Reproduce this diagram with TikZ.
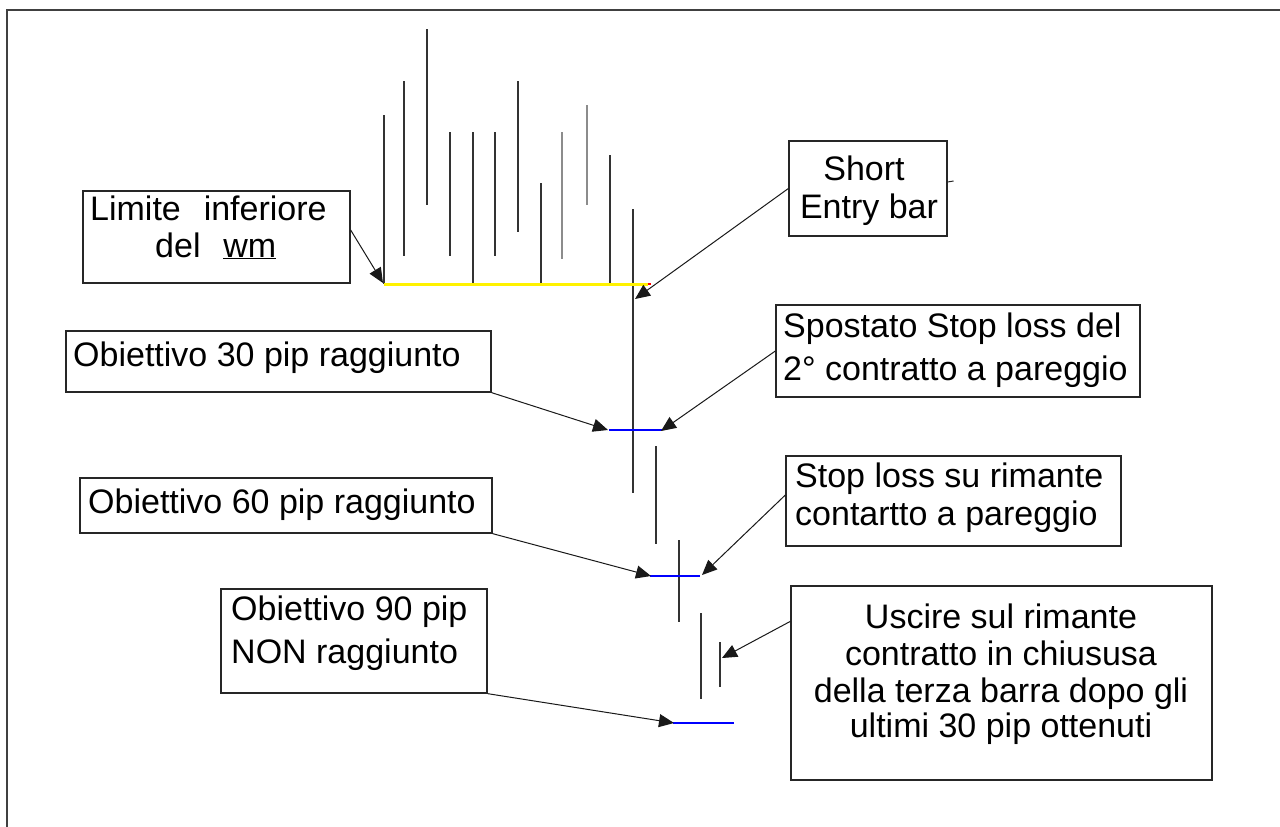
\documentclass[tikz,border=0pt]{standalone}
\usepackage{fontspec}
\setmainfont{Liberation Sans}
\usetikzlibrary{arrows.meta}
\begin{document}
\begin{tikzpicture}[x=1pt,y=-1pt,
  box/.style={draw=black!85, line width=1.3pt, rectangle, inner sep=0pt},
  lbl/.style={font=\fontsize{34}{37}\selectfont, inner sep=0pt, text=black},
  bar/.style={draw=black!80, line width=2pt},
  graybar/.style={draw=black!45, line width=2pt},
  bluel/.style={draw=blue, line width=1.8pt},
  conn/.style={draw=black!90, line width=1pt, -{Triangle[length=15pt,width=13pt]}},
  frame/.style={draw=black!75, line width=2pt}]
\useasboundingbox (0,0) rectangle (1280,827);
\fill[white] (0,0) rectangle (1280,827);
% outer frame (top and left)
\draw[frame] (7,827) -- (7,10) -- (1280,10);

% bars
\draw[bar] (384,115) -- (384,284);
\draw[bar] (404,81) -- (404,256);
\draw[bar] (427,29) -- (427,205);
\draw[bar] (450,132) -- (450,256);
\draw[bar] (473,132) -- (473,284);
\draw[bar] (495,132) -- (495,256);
\draw[bar] (518,81) -- (518,232);
\draw[bar] (541,183) -- (541,284);
\draw[graybar] (562,132) -- (562,259);
\draw[graybar] (587,105) -- (587,205);
\draw[bar] (610,155) -- (610,284);
\draw[bar] (633,209) -- (633,493);
\draw[bar] (656,446) -- (656,544);
\draw[bar] (679,540) -- (679,622);
\draw[bar] (701,613) -- (701,699);
\draw[bar] (720,642) -- (720,687);

% levels
\draw[draw=yellow, line width=3pt] (384,284) -- (648,284);
\draw[draw=red, line width=2pt] (648,284) -- (651,284);
\draw[bluel] (609,430) -- (662,430);
\draw[bluel] (650,576) -- (700,576);
\draw[bluel] (673,723) -- (734,723);

% boxes
\node[box, minimum width=267pt, minimum height=92pt] (b1) at (216.5,237) {};
\node[box, minimum width=158pt, minimum height=95pt] (b2) at (868,188.5) {};
\node[box, minimum width=425pt, minimum height=61pt] (b3) at (278.5,361.5) {};
\node[box, minimum width=364pt, minimum height=92pt] (b4) at (958,351) {};
\node[box, minimum width=412pt, minimum height=55pt] (b5) at (286,505.5) {};
\node[box, minimum width=335pt, minimum height=90pt] (b6) at (953.5,501) {};
\node[box, minimum width=266pt, minimum height=104pt] (b7) at (354,641) {};
\node[box, minimum width=421pt, minimum height=194pt] (b8) at (1001.5,683) {};

% texts
\node[lbl, anchor=base west] (t1a) at (90,220) {Limite\ \ \hspace{4pt}inferiore};
\node[lbl, anchor=base west] (t1b) at (155,257) {del\ \ \hspace{4pt}\underline{wm}};
\node[lbl, anchor=base] (t2a) at (864,180) {Short};
\node[lbl, anchor=base] (t2b) at (869,218) {Entry bar};
\node[lbl, anchor=base west] (t3) at (73,366) {Obiettivo 30 pip raggiunto};
\node[lbl, anchor=base west] (t4a) at (783,337) {Spostato Stop loss del};
\node[lbl, anchor=base west] (t4b) at (783,380) {2° contratto a pareggio};
\node[lbl, anchor=base west] (t5) at (88,513) {Obiettivo 60 pip raggiunto};
\node[lbl, anchor=base west] (t6a) at (795,487) {Stop loss su rimante};
\node[lbl, anchor=base west] (t6b) at (795,525) {contartto a pareggio};
\node[lbl, anchor=base west] (t7a) at (231,620) {Obiettivo 90 pip};
\node[lbl, anchor=base west] (t7b) at (231,663) {NON raggiunto};
\node[lbl, anchor=base] (t8a) at (1001,628) {Uscire sul rimante};
\node[lbl, anchor=base] (t8b) at (1001,665) {contratto in chiususa};
\node[lbl, anchor=base] (t8c) at (1001,702) {della terza barra dopo gli};
\node[lbl, anchor=base] (t8d) at (1001,737) {ultimi 30 pip ottenuti};

% arrow tips
\coordinate (p1) at (383,283);
\coordinate (p2) at (635,299);
\coordinate (p3) at (608,430);
\coordinate (p4) at (661,431);
\coordinate (p5) at (651,576);
\coordinate (p6) at (702,575);
\coordinate (p7) at (674,723);
\coordinate (p8) at (722,658);

% connectors
\draw[conn] ([yshift=7pt]b1.east) -- (p1);
\draw[conn] (b2.west) -- (p2);
\draw[conn] (b3.south east) -- (p3);
\draw[conn] (b4.west) -- (p4);
\draw[conn] (b5.south east) -- (p5);
\draw[conn] ([yshift=6pt]b6.west) -- (p6);
\draw[conn] (b7.south east) -- (p7);
\draw[conn] ([yshift=-36pt]b8.north west) -- (p8);

% small tick right of Short Entry box
\draw[draw=black!85, line width=1pt] ([yshift=6.5pt]b2.east) -- ++(6,-1);
\end{tikzpicture}
\end{document}
